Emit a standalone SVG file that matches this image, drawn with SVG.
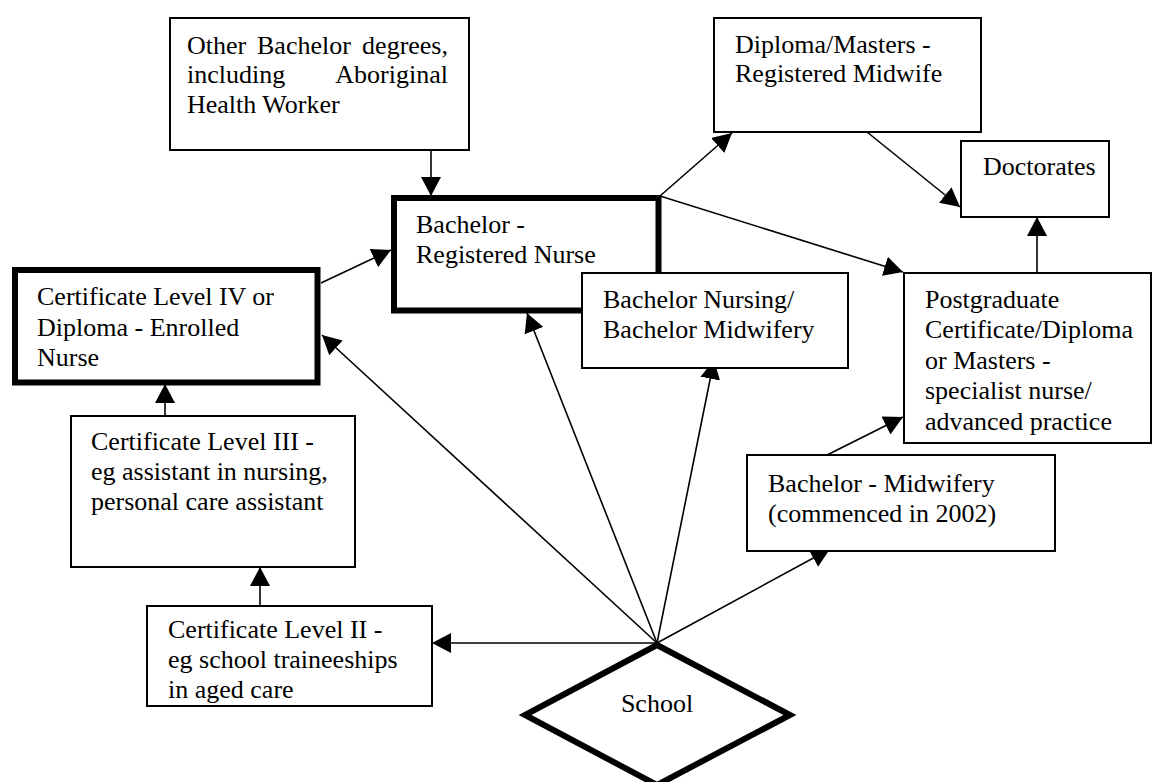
<svg xmlns="http://www.w3.org/2000/svg" width="1157" height="782" viewBox="0 0 1157 782">
<style>
.box{fill:#fff;stroke:#000;stroke-width:2}
.thick{fill:#fff;stroke:#000;stroke-width:6}
.t{font-family:"Liberation Serif","Times New Roman",serif;font-size:26px;fill:#000}
.c{stroke:#000;stroke-width:1.6;fill:none}
</style>
<defs>
<marker id="ah" markerUnits="userSpaceOnUse" markerWidth="20" markerHeight="20" refX="19" refY="10" orient="auto" viewBox="0 0 20 20">
<path d="M0,0 L19,10 L0,20 Z" fill="#000"/>
</marker>
</defs>
<rect width="1157" height="782" fill="#fff"/>

<g id="connectors">
<line class="c" x1="431" y1="150" x2="431" y2="196" marker-end="url(#ah)"/>
<line class="c" x1="321" y1="283" x2="391" y2="250" marker-end="url(#ah)"/>
<line class="c" x1="660" y1="196" x2="732" y2="133" marker-end="url(#ah)"/>
<line class="c" x1="660" y1="196" x2="903" y2="272" marker-end="url(#ah)"/>
<line class="c" x1="867" y1="132" x2="960" y2="207" marker-end="url(#ah)"/>
<line class="c" x1="1037" y1="273" x2="1037" y2="217" marker-end="url(#ah)"/>
<line class="c" x1="165" y1="416" x2="165" y2="384" marker-end="url(#ah)"/>
<line class="c" x1="260" y1="606" x2="260" y2="567" marker-end="url(#ah)"/>
<line class="c" x1="657" y1="643" x2="432" y2="643" marker-end="url(#ah)"/>
<line class="c" x1="657" y1="643" x2="322" y2="335" marker-end="url(#ah)"/>
<line class="c" x1="657" y1="643" x2="527" y2="313" marker-end="url(#ah)"/>
<line class="c" x1="657" y1="643" x2="714" y2="360" marker-end="url(#ah)"/>
<line class="c" x1="657" y1="643" x2="830" y2="549" marker-end="url(#ah)"/>
<line class="c" x1="827" y1="455" x2="903" y2="417" marker-end="url(#ah)"/>
</g>

<g id="other-bachelor">
<rect class="box" x="170" y="18" width="299" height="132"/>
<text class="t" y="54"><tspan x="187">Other</tspan><tspan x="257">Bachelor</tspan><tspan x="448" text-anchor="end">degrees,</tspan></text>
<text class="t" y="83"><tspan x="187">including</tspan><tspan x="448" text-anchor="end">Aboriginal</tspan></text>
<text class="t" x="187" y="113">Health Worker</text>
</g>

<g id="bachelor-rn">
<rect class="thick" x="394" y="198" width="264.5" height="112.5"/>
<text class="t" x="416" y="233">Bachelor -</text>
<text class="t" x="416" y="263">Registered Nurse</text>
</g>

<g id="bachelor-nursing-midwifery">
<rect class="box" x="582" y="273" width="266" height="95"/>
<text class="t" x="603" y="308">Bachelor Nursing/</text>
<text class="t" x="603" y="338">Bachelor Midwifery</text>
</g>

<g id="diploma-masters">
<rect class="box" x="714" y="18" width="267" height="114"/>
<text class="t" x="735" y="53">Diploma/Masters -</text>
<text class="t" x="735" y="82">Registered Midwife</text>
</g>

<g id="doctorates">
<rect class="box" x="961" y="141" width="148" height="76"/>
<text class="t" x="983" y="175">Doctorates</text>
</g>

<g id="postgraduate">
<rect class="box" x="904" y="273" width="247" height="170"/>
<text class="t" x="925" y="308">Postgraduate</text>
<text class="t" x="925" y="338">Certificate/Diploma</text>
<text class="t" x="925" y="369">or Masters -</text>
<text class="t" x="925" y="399">specialist nurse/</text>
<text class="t" x="925" y="430">advanced practice</text>
</g>

<g id="cert-iv">
<rect class="thick" x="15" y="270" width="302.5" height="112.5"/>
<text class="t" x="37" y="305">Certificate Level IV or</text>
<text class="t" x="37" y="336">Diploma - Enrolled</text>
<text class="t" x="37" y="366">Nurse</text>
</g>

<g id="cert-iii">
<rect class="box" x="71" y="416" width="284" height="151"/>
<text class="t" x="91" y="450">Certificate Level III -</text>
<text class="t" x="91" y="480">eg assistant in nursing,</text>
<text class="t" x="91" y="510">personal care assistant</text>
</g>

<g id="cert-ii">
<rect class="box" x="147" y="606" width="285" height="100"/>
<text class="t" x="168" y="638">Certificate Level II -</text>
<text class="t" x="168" y="668">eg school traineeships</text>
<text class="t" x="168" y="698">in aged care</text>
</g>

<g id="bachelor-midwifery">
<rect class="box" x="747" y="455" width="308" height="96"/>
<text class="t" x="768" y="492">Bachelor - Midwifery</text>
<text class="t" x="768" y="522">(commenced in 2002)</text>
</g>

<g id="school">
<polygon points="657,645 790,715 657,785 525,715" fill="#fff" stroke="#000" stroke-width="6" stroke-linejoin="miter"/>
<text class="t" x="657" y="712" text-anchor="middle">School</text>
</g>
</svg>
